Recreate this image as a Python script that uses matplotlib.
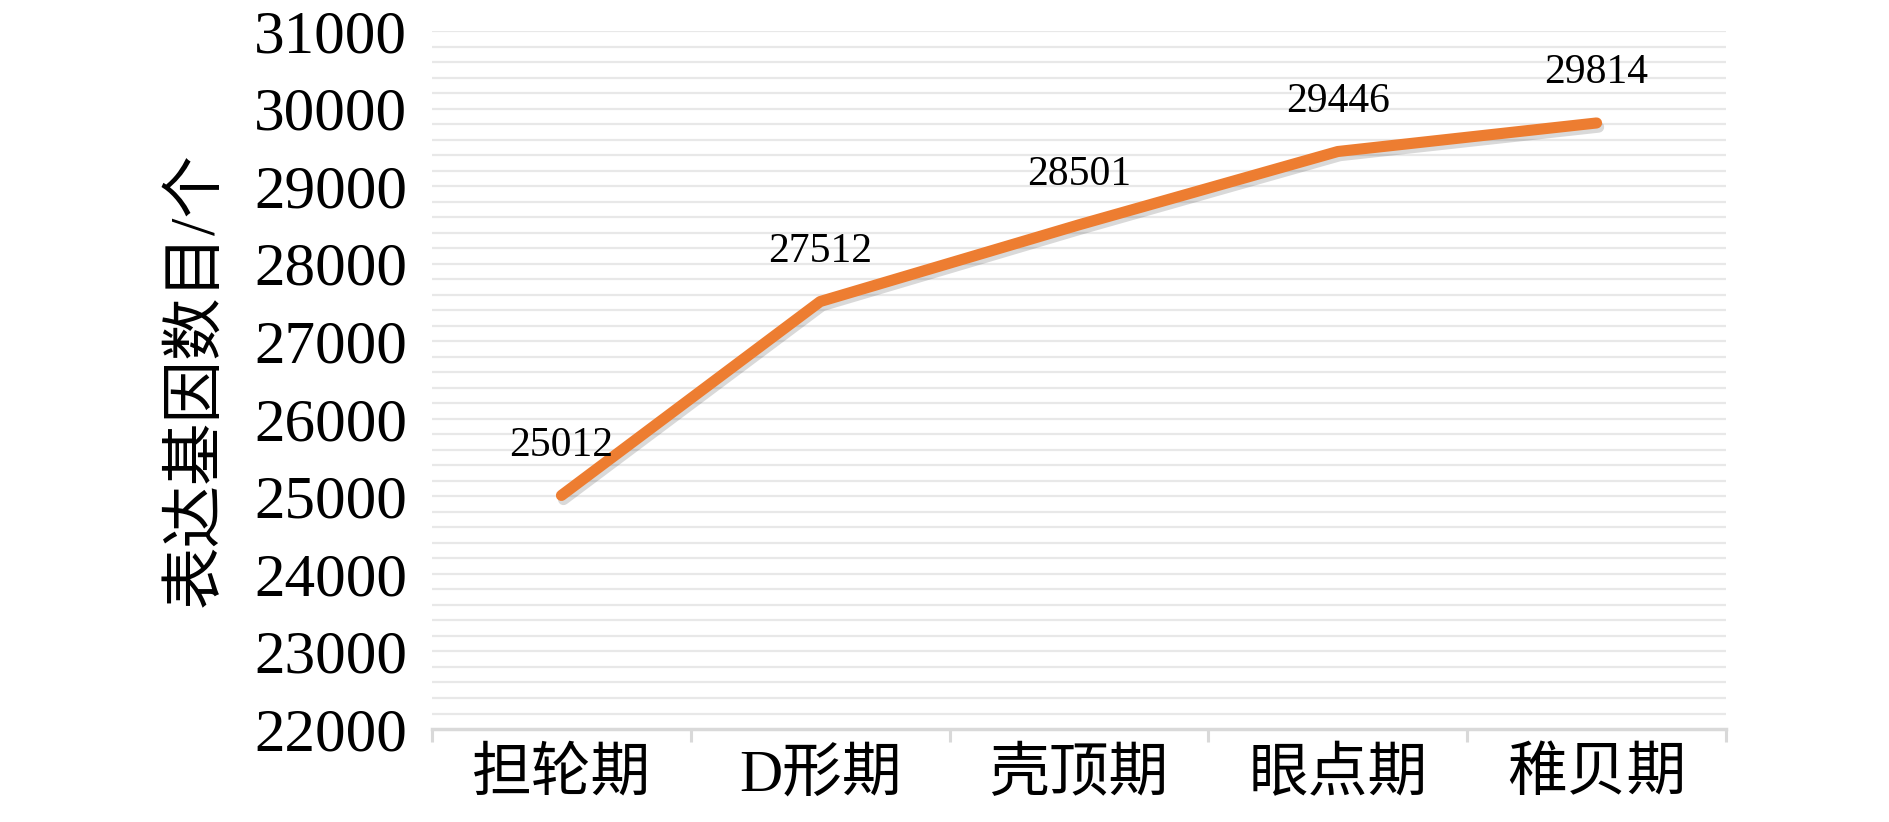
#!/usr/bin/env python3

from matplotlib import pyplot as plt
from matplotlib import patheffects as pe
import numpy as np

stages = ["担轮期", "D形期", "壳顶期", "眼点期", "稚贝期"]
gene_counts = [25012, 27512, 28501, 29446, 29814]
y_ticks = list(range(22000, 31001, 1000))

plt.rcParams["font.family"] = ["Liberation Serif", "Noto Sans CJK SC"]

fig = plt.figure(figsize=(18.9, 8.22), dpi=100)
ax = fig.add_axes([0.2286, 0.1131, 0.9132 - 0.2286, 0.9623 - 0.1131])

x = np.arange(len(stages))
ax.plot(x, gene_counts, color="#ED7D31", linewidth=8, solid_capstyle="round",
        solid_joinstyle="round", zorder=3,
        path_effects=[pe.SimpleLineShadow(offset=(1.5, -3), alpha=0.15, shadow_color="k"),
                      pe.Normal()])

for xi, v in zip(x, gene_counts):
    ax.annotate(str(v), (xi, v), xytext=(0, 36), textcoords="offset points",
                ha="center", va="center", fontsize=30)

ax.set_xlim(-0.5, len(stages) - 0.5)
ax.set_ylim(22000, 31000)

# grid every 200
for g in range(22200, 31001, 200):
    ax.axhline(g, color="#E8E8E8", linewidth=1.6, zorder=1)

ax.set_yticks(y_ticks)
ax.set_yticklabels([str(t) for t in y_ticks], fontsize=44)
ax.tick_params(axis="y", length=0, pad=18)

ax.set_xticks(x)
ax.set_xticklabels(stages, fontsize=43)
ax.set_xticks(np.arange(-0.5, len(stages)), minor=True)
ax.tick_params(axis="x", which="major", length=0, pad=14)
ax.tick_params(axis="x", which="minor", length=9, width=2.2, color="#D9D9D9")

for side in ["left", "right", "top"]:
    ax.spines[side].set_visible(False)
ax.spines["bottom"].set_color("#D9D9D9")
ax.spines["bottom"].set_linewidth(2.5)

ax.set_ylabel("表达基因数目/个", fontsize=45, labelpad=20)

fig.savefig("out.png", dpi=100)
